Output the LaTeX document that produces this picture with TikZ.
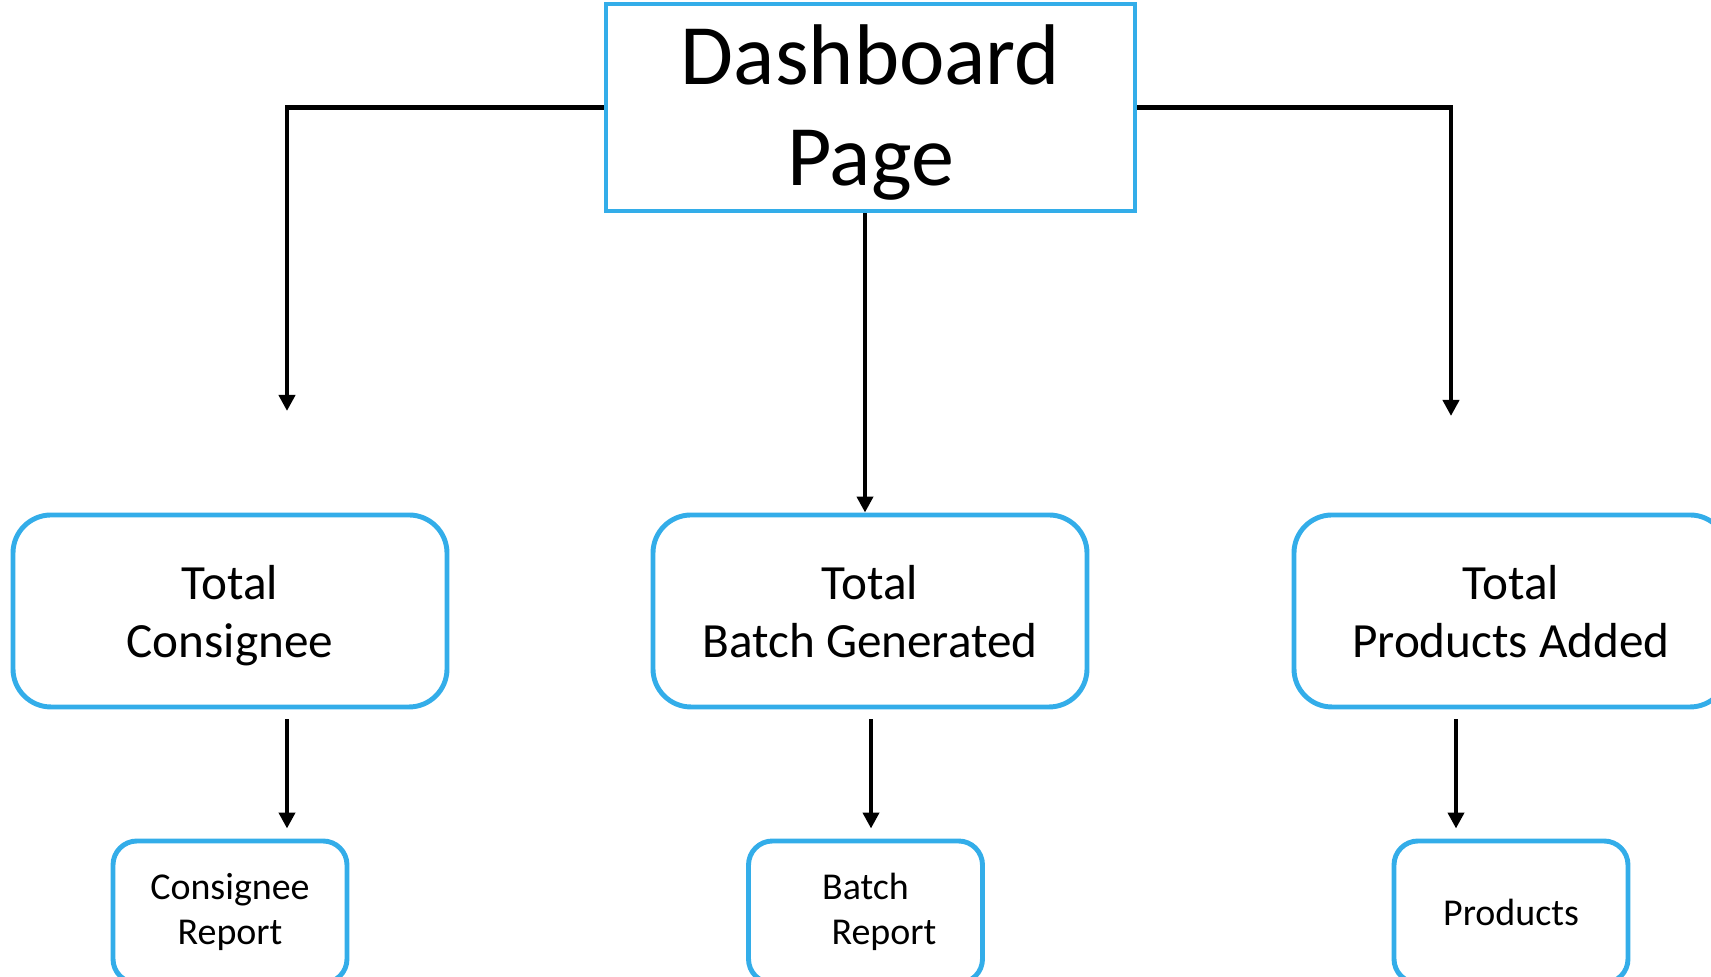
\documentclass[tikz,border=0pt]{standalone}
\usepackage{fontspec}
\setmainfont{Carlito}
\usetikzlibrary{arrows.meta}
\definecolor{boxblue}{RGB}{51,173,233}

\begin{document}
\begin{tikzpicture}[
  page/.style={draw=boxblue, line width=1.4pt, minimum width=5.29cm, minimum height=2.07cm, align=center, text depth=1.5pt, font=\fontsize{24.5}{28.7}\selectfont},
  total/.style={draw=boxblue, line width=1.4pt, rounded corners=0.38cm, minimum width=4.34cm, minimum height=1.92cm, align=center, text depth=0pt, font=\fontsize{14}{16.5}\selectfont},
  report/.style={draw=boxblue, line width=1.4pt, rounded corners=0.24cm, minimum width=2.34cm, minimum height=1.42cm, align=center, font=\fontsize{10.8}{12.8}\selectfont},
  link/.style={line width=1.3pt},
  arrow/.style={link, -{Triangle[length=0.16cm, width=0.16cm]}},
  gap/.style={shorten <=0.1cm, shorten >=0.1cm}
  ]
	\useasboundingbox (0,0) rectangle (17.11,9.77);

	\node[page] (dash) at (8.705,8.695) {Dashboard\\Page};

	\node[total] (tc) at (2.30,3.66) {Total\\Consignee};
	\node[total] (tb) at (8.70,3.66) {Total\\Batch Generated};
	\node[total] (tp) at (15.11,3.66) {Total\\Products Added};

	\node[report] (cr) at (2.30,0.65) {Consignee\\Report};
	\node[report] (br) at (8.655,0.65) {Batch\\\hspace{10.5pt}Report};
	\node[report] (pr) at (15.11,0.65) {Products};

	\coordinate (lend) at (2.87,5.66);
	\coordinate (rend) at (14.51,5.61);
	\coordinate (dcol) at (8.65,0);
	\coordinate (lcol) at (2.87,0);
	\coordinate (mcol) at (8.71,0);
	\coordinate (rcol) at (14.56,0);

	\draw[arrow] (dash.west) -| (lend);
	\draw[arrow] (dash.east) -| (rend);
	\draw[arrow] (dash.south -| dcol) -- (tb.north -| dcol);

	\draw[arrow, gap] (tc.south -| lcol) -- (cr.north -| lcol);
	\draw[arrow, gap] (tb.south -| mcol) -- (br.north -| mcol);
	\draw[arrow, gap] (tp.south -| rcol) -- (pr.north -| rcol);
\end{tikzpicture}
\end{document}
